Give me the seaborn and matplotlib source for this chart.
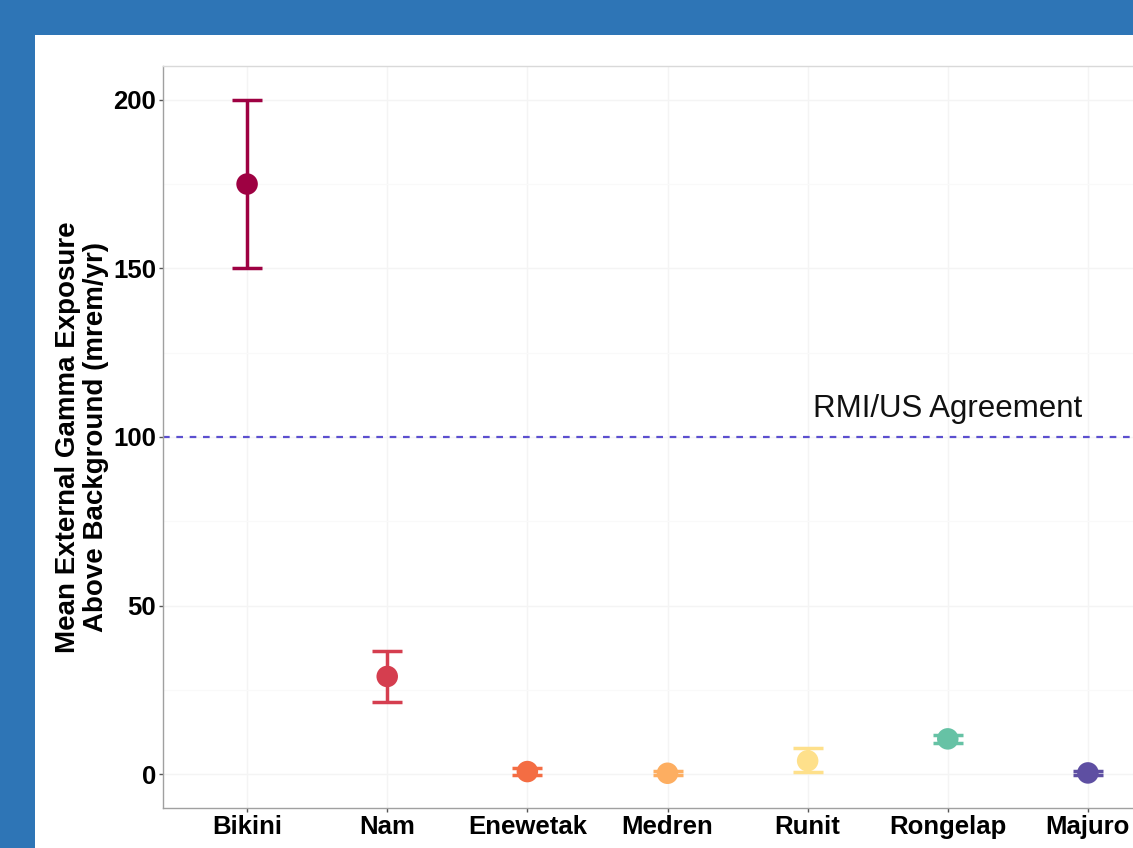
import matplotlib
matplotlib.use("Agg")
import matplotlib.pyplot as plt
import seaborn as sns
import pandas as pd
from matplotlib.patches import Rectangle

# values
sites = ["Bikini", "Nam", "Enewetak", "Medren", "Runit", "Rongelap", "Majuro"]
mean_exposure = [175.0, 29.0, 0.8, 0.3, 4.0, 10.5, 0.4]
lower = [150.0, 21.5, -0.3, -0.3, 0.6, 9.3, -0.3]
upper = [199.8, 36.5, 1.9, 0.9, 7.7, 11.7, 1.1]
site_colors = ["#9E0142", "#D53E4F", "#F46D43", "#FDAE61", "#FEE08B", "#66C2A5", "#5E4FA2"]
limit_value = 100
limit_label = "RMI/US Agreement"
y_ticks = [0, 50, 100, 150, 200]

df = pd.DataFrame({"site": sites, "mean": mean_exposure, "lo": lower, "hi": upper})

sns.set_theme(style="white")
plt.rcParams["font.family"] = ["Liberation Sans", "DejaVu Sans"]

fig = plt.figure(figsize=(11.33, 8.48), dpi=100)
fig.patch.set_facecolor("#2E75B6")
fig.patches.append(Rectangle((35 / 1133, 0), 1, 1 - 35 / 848, transform=fig.transFigure,
                             facecolor="white", edgecolor="none", zorder=-5))

ax = fig.add_axes([163 / 1133, 40 / 848, (1172 - 163) / 1133, (808 - 66) / 848])
ax.set_zorder(2)
ax.set_facecolor("white")

# error bars first, points on top
for i, row in df.iterrows():
    ax.errorbar(i, row["mean"], yerr=[[row["mean"] - row["lo"]], [row["hi"] - row["mean"]]],
                fmt="none", ecolor=site_colors[i], elinewidth=2.5, capsize=10.5, capthick=2.5, zorder=3)

sns.scatterplot(data=df, x="site", y="mean", hue="site", palette=site_colors, s=240,
                edgecolor="none", legend=False, ax=ax, zorder=4)

ax.axhline(limit_value, color="#5B4FCF", linestyle=(0, (3, 3)), linewidth=1.6, zorder=2)
ax.text(5.0, limit_value + 4, limit_label, ha="center", va="bottom", fontsize=22.5, color="#111111")

ax.set_xlim(-0.6, len(sites) - 0.4)
ax.set_ylim(-10, 210)
ax.set_yticks(y_ticks)
ax.set_yticks([25, 75, 125, 175], minor=True)
ax.grid(True, which="major", color="#F4F4F4", linewidth=1.0)
ax.grid(True, which="minor", color="#F9F9F9", linewidth=0.8)
ax.set_axisbelow(True)

for side in ["top", "right"]:
    ax.spines[side].set_color("#D9D9D9")
for side in ["left", "bottom"]:
    ax.spines[side].set_color("#A0A0A0")
for sp in ax.spines.values():
    sp.set_linewidth(1.0)

ax.tick_params(axis="both", which="major", length=3, width=1, color="#555555", pad=2,
               labelsize=18.5, bottom=True, left=True)
ax.tick_params(axis="both", which="minor", length=0)
for lab in ax.get_xticklabels() + ax.get_yticklabels():
    lab.set_fontweight("bold")
    lab.set_color("black")

ax.set_xlabel("")
ax.set_ylabel("Mean External Gamma Exposure\nAbove Background (mrem/yr)", fontsize=20,
              fontweight="bold", color="black", linespacing=1.1, labelpad=3)

fig.savefig("out.png", dpi=100, facecolor=fig.get_facecolor())
